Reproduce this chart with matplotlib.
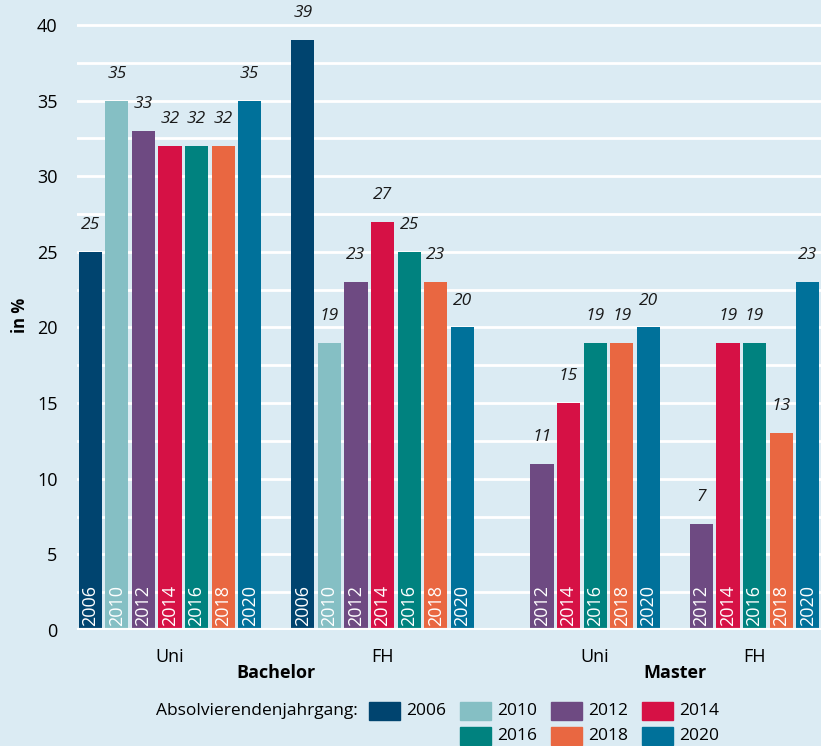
import numpy as np
import matplotlib.pyplot as plt
from matplotlib.patches import Rectangle

plt.rcParams['font.family'] = ['Open Sans', 'DejaVu Sans']

# Data
years = ['2006', '2010', '2012', '2014', '2016', '2018', '2020']
colors = ['#00446F', '#85BFC4', '#6E4A82', '#D61145', '#00827F', '#E96741', '#00719A']
groups = ['Uni', 'FH', 'Uni', 'FH']
degrees = ['Bachelor', 'Master']
bachelor_uni = [25, 35, 33, 32, 32, 32, 35]
bachelor_fh = [39, 19, 23, 27, 25, 23, 20]
master_uni = [None, None, 11, 15, 19, 19, 20]
master_fh = [None, None, 7, 19, 19, 13, 23]
values = [bachelor_uni, bachelor_fh, master_uni, master_fh]

bg = '#DBEBF3'
fig = plt.figure(figsize=(8.21, 7.46), dpi=100, facecolor=bg)
ax = fig.add_axes([77 / 821, 116 / 746, 1 - 77 / 821, 1 - 116 / 746])
ax.set_facecolor(bg)

# slot layout: Bachelor groups have 7 bars, Master groups 5 (no 2006/2010)
group_start = [0, 8, 15, 21]
width = 0.87
centers = []
for g, vals in enumerate(values):
    slots = []
    for i, v in enumerate(vals):
        if v is None:
            continue
        pos = group_start[g] + i
        slots.append(pos)
        ax.bar(pos, v, width=width, color=colors[i], zorder=3)
        ax.text(pos, v + 1.25, str(v), ha='center', va='bottom', style='italic',
                fontsize=12.5, color='#1a1a1a', zorder=4)
        ax.text(pos, 0.25, years[i], rotation=90, ha='center', va='bottom',
                color='white', fontsize=13, zorder=4)
    centers.append((min(slots) + max(slots)) / 2)

ax.set_xlim(-0.5, 27.5)
ax.set_ylim(0, 41.65)
ax.set_yticks(np.arange(0, 41, 5))
ax.set_yticks(np.arange(0, 41, 2.5), minor=True)
ax.tick_params(axis='y', which='both', length=0, labelsize=13, pad=14)
ax.set_xticks([])
ax.grid(axis='y', which='both', color='white', linewidth=2, zorder=0)
ax.axhline(0, color='white', linewidth=3, zorder=5)
for s in ax.spines.values():
    s.set_visible(False)
ax.set_ylabel('in %', fontsize=12, fontweight='bold', labelpad=6)

# category labels
for g, name in enumerate(groups):
    ax.text(centers[g], -1.8, name, ha='center', va='center', fontsize=13)
ax.text((centers[0] + centers[1]) / 2, -2.85, degrees[0], ha='center', va='center',
        fontsize=13, fontweight='bold')
ax.text((centers[2] + centers[3]) / 2, -2.85, degrees[1], ha='center', va='center',
        fontsize=13, fontweight='bold')

# legend
fig.text(358 / 821, 1 - 711 / 746, 'Absolvierendenjahrgang:', ha='right', va='center', fontsize=12.5)
legend_pos = [(0, 0), (1, 0), (2, 0), (3, 0), (1, 1), (2, 1), (3, 1)]
for i, (c, r) in enumerate(legend_pos):
    x0 = 369 + c * 91
    yc = 711 + r * 25
    fig.patches.append(Rectangle((x0 / 821, 1 - (yc + 9) / 746), 31 / 821, 18 / 746,
                                 transform=fig.transFigure, color=colors[i]))
    fig.text((x0 + 37) / 821, 1 - yc / 746, years[i], ha='left', va='center', fontsize=12.5)

fig.savefig('out.png', dpi=100, facecolor=bg)
